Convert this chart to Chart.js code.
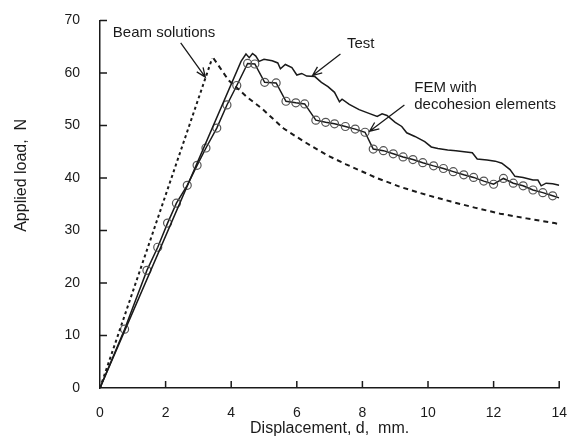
<!DOCTYPE html>
<html>
<head>
<meta charset="utf-8">
<script src="https://cdn.jsdelivr.net/npm/chart.js@4.4.1/dist/chart.umd.min.js"></script>
<style>
  body { margin: 0; background: #fff; }
  #loadChart { display: block; }
</style>
</head>
<body>
<canvas id="loadChart" width="576" height="444"></canvas>
<script>
// values (displacement mm, load N)
const testX = [0, 4.3, 4.45, 4.55, 4.65, 4.75, 4.85, 5.0, 5.25, 5.42, 5.5, 5.65, 5.85, 6.0, 6.15, 6.3, 6.55, 6.75, 6.95, 7.15, 7.3, 7.38, 7.6, 7.9, 8.2, 8.45, 8.6, 8.75, 9.0, 9.2, 9.35, 9.6, 9.9, 10.1, 10.3, 10.6, 10.85, 11.1, 11.35, 11.5, 11.8, 12.05, 12.25, 12.5, 12.65, 12.9, 13.2, 13.35, 13.45, 13.6, 13.8, 14.0];
const testY = [0, 62.2, 63.6, 62.9, 63.7, 63.2, 62.2, 62.6, 62.3, 61.9, 60.8, 61.6, 61.0, 59.6, 59.9, 59.4, 59.3, 58.2, 57.4, 56.3, 54.5, 55.0, 54.0, 53.0, 52.3, 51.7, 52.2, 51.9, 50.6, 49.8, 48.6, 47.9, 46.9, 45.9, 45.6, 45.3, 45.2, 45.0, 44.8, 43.6, 43.4, 43.2, 42.8, 41.6, 40.3, 40.1, 39.6, 39.6, 38.5, 39.0, 38.9, 38.6];

const femX = [0, 0.75, 1.43, 1.76, 2.06, 2.33, 2.66, 2.96, 3.23, 3.56, 3.87, 4.17, 4.5, 4.72, 5.02, 5.37, 5.67, 5.97, 6.24, 6.58, 6.88, 7.15, 7.48, 7.78, 8.08, 8.33, 8.64, 8.94, 9.24, 9.54, 9.84, 10.17, 10.47, 10.77, 11.09, 11.39, 11.7, 12.0, 12.3, 12.6, 12.9, 13.2, 13.5, 13.8, 14.0];
const femY = [0, 11.2, 22.4, 26.8, 31.4, 35.2, 38.6, 42.4, 45.7, 49.5, 53.9, 57.6, 61.8, 61.7, 58.2, 58.1, 54.6, 54.3, 54.1, 51.0, 50.6, 50.3, 49.8, 49.3, 48.7, 45.5, 45.2, 44.6, 44.0, 43.5, 42.9, 42.3, 41.8, 41.2, 40.6, 40.1, 39.4, 38.8, 39.9, 39.0, 38.5, 37.7, 37.2, 36.6, 36.2];

const beamUpX = [0, 3.42];
const beamUpY = [0, 62.8];
const beamDownX = [3.46, 3.92, 4.5, 4.92, 5.6, 6.2, 6.93, 7.5, 8.43, 9.2, 9.94, 10.7, 11.45, 12.2, 13.0, 13.86, 14.0];
const beamDownY = [62.8, 58.6, 55.3, 53.3, 49.4, 47.0, 44.3, 42.6, 40.0, 38.2, 36.8, 35.5, 34.3, 33.2, 32.3, 31.4, 31.2];

const xTicks = [0, 2, 4, 6, 8, 10, 12, 14];
const yTicks = [0, 10, 20, 30, 40, 50, 60, 70];

// text labels with arrows, placed in data units
const notes = [
  { lines: ["Beam solutions"], x: 0.39, y: 67.6, from: [2.46, 65.7], to: [3.21, 59.2] },
  { lines: ["Test"], x: 7.53, y: 65.5, from: [7.33, 63.6], to: [6.48, 59.5] },
  { lines: ["FEM with", "decohesion elements"], x: 9.58, y: 57.1, from: [9.28, 53.9], to: [8.22, 48.9] }
];

function toPoints(xs, ys) {
  return xs.map((v, i) => ({ x: v, y: ys[i] }));
}

const ink = '#1a1a1a';
const fontFamily = '"Liberation Sans", Arial, Helvetica, sans-serif';

const extras = {
  id: 'extras',
  afterDraw(chart) {
    const ctx = chart.ctx;
    const x = chart.scales.x;
    const y = chart.scales.y;
    const area = chart.chartArea;
    ctx.save();

    // inward tick marks
    ctx.strokeStyle = ink;
    ctx.lineWidth = 1.5;
    ctx.beginPath();
    xTicks.forEach(v => {
      if (v === 0) return;
      const px = x.getPixelForValue(v);
      ctx.moveTo(px, area.bottom);
      ctx.lineTo(px, area.bottom - 7);
    });
    yTicks.forEach(v => {
      if (v === 0) return;
      const py = y.getPixelForValue(v);
      ctx.moveTo(area.left, py);
      ctx.lineTo(area.left + 7, py);
    });
    ctx.stroke();

    // y axis title
    ctx.fillStyle = ink;
    ctx.font = '16px ' + fontFamily;
    ctx.textAlign = 'center';
    ctx.textBaseline = 'middle';
    ctx.save();
    ctx.translate(22, y.getPixelForValue(40.5));
    ctx.rotate(-Math.PI / 2);
    ctx.fillText('Applied load,  N', 0, 0);
    ctx.restore();

    // notes
    ctx.font = '15px ' + fontFamily;
    ctx.textAlign = 'left';
    notes.forEach(n => {
      const tx = x.getPixelForValue(n.x);
      const ty = y.getPixelForValue(n.y);
      n.lines.forEach((line, i) => ctx.fillText(line, tx, ty + i * 17));

      const x1 = x.getPixelForValue(n.from[0]);
      const y1 = y.getPixelForValue(n.from[1]);
      const x2 = x.getPixelForValue(n.to[0]);
      const y2 = y.getPixelForValue(n.to[1]);
      const ang = Math.atan2(y2 - y1, x2 - x1);
      ctx.lineWidth = 1.3;
      ctx.beginPath();
      ctx.moveTo(x1, y1);
      ctx.lineTo(x2, y2);
      ctx.moveTo(x2 - 10 * Math.cos(ang - 0.4), y2 - 10 * Math.sin(ang - 0.4));
      ctx.lineTo(x2, y2);
      ctx.lineTo(x2 - 10 * Math.cos(ang + 0.4), y2 - 10 * Math.sin(ang + 0.4));
      ctx.stroke();
    });
    ctx.restore();
  }
};

const ctx = document.getElementById('loadChart').getContext('2d');
const chart = new Chart(ctx, {
  type: 'scatter',
  data: {
    datasets: [
      {
        label: 'Beam solutions (rising)',
        data: toPoints(beamUpX, beamUpY),
        showLine: true,
        borderColor: ink,
        borderWidth: 2,
        borderDash: [3, 3],
        pointRadius: 0
      },
      {
        label: 'Beam solutions',
        data: toPoints(beamDownX, beamDownY),
        showLine: true,
        borderColor: ink,
        borderWidth: 2,
        borderDash: [5, 4],
        pointRadius: 0
      },
      {
        label: 'Test',
        data: toPoints(testX, testY),
        showLine: true,
        borderColor: ink,
        borderWidth: 1.5,
        pointRadius: 0
      },
      {
        label: 'FEM with decohesion elements',
        data: toPoints(femX, femY),
        showLine: true,
        borderColor: ink,
        borderWidth: 1.5,
        pointRadius: c => (c.dataIndex === 0 || c.dataIndex === femX.length - 1) ? 0 : 4,
        pointBorderColor: '#555',
        pointBorderWidth: 1.2,
        pointBackgroundColor: 'rgba(255,255,255,0)'
      }
    ]
  },
  options: {
    responsive: false,
    devicePixelRatio: 1,
    animation: false,
    layout: { padding: { top: 14, right: 12, left: 0, bottom: 0 } },
    plugins: {
      legend: { display: false },
      tooltip: { enabled: false }
    },
    scales: {
      x: {
        type: 'linear',
        min: 0,
        max: 14,
        afterFit: s => { s.height = 56; },
        afterBuildTicks: s => { s.ticks = xTicks.map(v => ({ value: v })); },
        grid: { display: false },
        border: { display: true, color: ink, width: 1.5 },
        ticks: {
          color: ink,
          padding: 9,
          maxRotation: 0,
          font: { family: fontFamily, size: 14 }
        },
        title: {
          display: true,
          text: 'Displacement, d,  mm.',
          color: ink,
          padding: { top: 4, bottom: 6 },
          font: { family: fontFamily, size: 16 }
        }
      },
      y: {
        type: 'linear',
        min: 0,
        max: 70,
        afterFit: s => { s.width = 100; },
        afterBuildTicks: s => { s.ticks = yTicks.map(v => ({ value: v })); },
        grid: { display: false },
        border: { display: true, color: ink, width: 1.5 },
        ticks: {
          color: ink,
          padding: 12,
          font: { family: fontFamily, size: 14 }
        }
      }
    }
  },
  plugins: [extras]
});
</script>
</body>
</html>
